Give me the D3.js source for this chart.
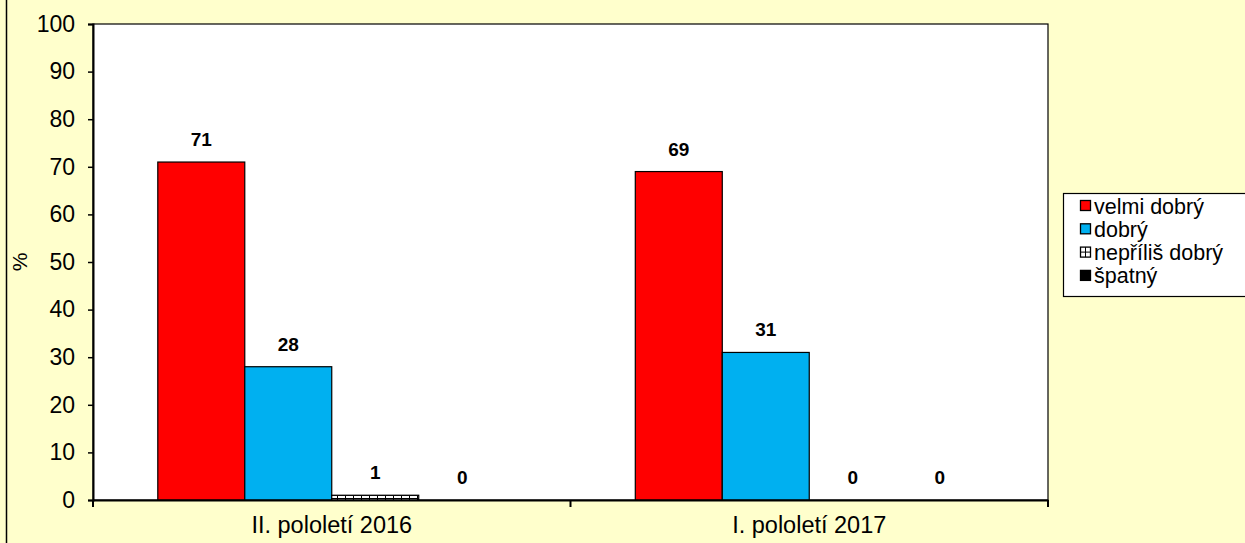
<!DOCTYPE html>
<html lang=cs>
<meta charset=utf-8>
<title>Hodnocení</title>
<style>
  body { margin: 0; background: #ffffcc; }
  svg { display: block; font-family: Arial, "Liberation Sans", sans-serif; }
</style>
<svg id=chart width=1245 height=543></svg>
<script src="https://cdn.jsdelivr.net/npm/d3@7/dist/d3.min.js"></script>
<script>
// data
var categories = ["II. pololetí 2016", "I. pololetí 2017"];
var seriesNames = ["velmi dobrý", "dobrý", "nepříliš dobrý", "špatný"];
var velmiDobry = [71, 69];
var dobry = [28, 31];
var neprilisDobry = [1, 0];
var spatny = [0, 0];
var yTicks = [0, 10, 20, 30, 40, 50, 60, 70, 80, 90, 100];

var seriesValues = [velmiDobry, dobry, neprilisDobry, spatny];
var fills = ["#ff0000", "#00b0f0", "url(#hatch)", "#000000"];

var svg = d3.select("#chart");
var W = 1245, H = 543;
var plot = { left: 93, top: 24, right: 1048, bottom: 500 };
var FONT = "Arial, 'Liberation Sans', sans-serif";

// pattern for "nepříliš dobrý"
var defs = svg.append("defs");
var pat = defs.append("pattern").attr("id", "hatch")
    .attr("patternUnits", "userSpaceOnUse").attr("width", 8).attr("height", 3);
pat.append("rect").attr("width", 8).attr("height", 3).attr("fill", "#fff");
pat.append("line").attr("x1", 0).attr("x2", 8).attr("y1", 0.5).attr("y2", 0.5)
    .attr("stroke", "#000").attr("stroke-width", 1);
pat.append("line").attr("x1", 4.5).attr("x2", 4.5).attr("y1", 0).attr("y2", 3)
    .attr("stroke", "#000").attr("stroke-width", 1);

// background + left outer border
svg.append("rect").attr("width", W).attr("height", H).attr("fill", "#ffffcc");
svg.append("line").attr("x1", 6.5).attr("x2", 6.5).attr("y1", 0).attr("y2", H)
    .attr("stroke", "#000").attr("stroke-width", 1.5);

// scales
var x0 = d3.scaleBand().domain(categories).range([plot.left, plot.right]).paddingInner(0).paddingOuter(0);
var x1 = d3.scaleBand().domain(d3.range(seriesNames.length))
    .range([0, x0.bandwidth()]).paddingInner(0).paddingOuter(0.745);
var y = d3.scaleLinear().domain([0, 100]).range([plot.bottom, plot.top]);

// plot area
svg.append("rect")
    .attr("x", plot.left).attr("y", plot.top)
    .attr("width", plot.right - plot.left).attr("height", plot.bottom - plot.top)
    .attr("fill", "#fff").attr("stroke", "#000").attr("stroke-width", 1.2);

// bars
var groups = svg.append("g").selectAll("g").data(categories).join("g")
    .attr("transform", function (c) { return "translate(" + x0(c) + ",0)"; });

groups.each(function (c, ci) {
    var g = d3.select(this);
    seriesValues.forEach(function (vals, si) {
        var v = vals[ci];
        if (v > 0) {
            g.append("rect")
                .attr("x", x1(si)).attr("y", y(v))
                .attr("width", x1.bandwidth()).attr("height", y(0) - y(v))
                .attr("fill", fills[si]).attr("stroke", "#000").attr("stroke-width", 1.2);
        }
        g.append("text")
            .attr("x", x1(si) + x1.bandwidth() / 2)
            .attr("y", y(v) - 16)
            .attr("text-anchor", "middle")
            .attr("font-size", 19).attr("font-weight", "bold")
            .text(v);
    });
});

// y axis
var yAxis = d3.axisLeft(y).tickValues(yTicks).tickSize(5).tickPadding(13);
var ya = svg.append("g").attr("transform", "translate(" + plot.left + ",0)").call(yAxis);
ya.select(".domain").attr("stroke", "#000").attr("stroke-width", 2);
ya.selectAll("line").attr("stroke", "#000").attr("stroke-width", 1.5);
ya.selectAll("text").attr("font-size", 23).attr("font-family", FONT).attr("fill", "#000");

// x axis
var xAxis = d3.axisBottom(x0).tickSize(0).tickPadding(16);
var xa = svg.append("g").attr("transform", "translate(0," + plot.bottom + ")").call(xAxis);
xa.select(".domain").attr("stroke", "#000").attr("stroke-width", 2);
xa.selectAll("text").attr("font-size", 23.5).attr("font-family", FONT).attr("fill", "#000");
// category separators
var seps = [plot.left].concat(categories.map(function (c) { return x0(c) + x0.bandwidth(); }));
xa.selectAll(".sep").data(seps).join("line").attr("class", "sep")
    .attr("x1", function (d) { return d; }).attr("x2", function (d) { return d; })
    .attr("y1", 0).attr("y2", 7).attr("stroke", "#000").attr("stroke-width", 2);

// y axis title
svg.append("text")
    .attr("transform", "translate(27," + ((plot.top + plot.bottom) / 2) + ") rotate(-90)")
    .attr("text-anchor", "middle").attr("font-size", 21).text("%");

// legend
var lg = svg.append("g").attr("transform", "translate(1063,193)");
lg.append("rect").attr("x", 0.5).attr("y", 0.5).attr("width", 210).attr("height", 103)
    .attr("fill", "#fff").attr("stroke", "#000").attr("stroke-width", 1.2);
var items = lg.selectAll(".item").data(seriesNames).join("g").attr("class", "item")
    .attr("transform", function (d, i) { return "translate(0," + (13 + i * 23.3) + ")"; });
items.append("rect").attr("x", 17.5).attr("y", -5.5).attr("width", 10).attr("height", 10)
    .attr("fill", function (d, i) { return i === 2 ? "#fff" : fills[i]; })
    .attr("stroke", "#000").attr("stroke-width", 1.3);
items.filter(function (d, i) { return i === 2; }).each(function () {
    var g = d3.select(this);
    g.append("line").attr("x1", 17.5).attr("x2", 27.5).attr("y1", -0.5).attr("y2", -0.5).attr("stroke", "#000");
    g.append("line").attr("x1", 22.5).attr("x2", 22.5).attr("y1", -5.5).attr("y2", 4.5).attr("stroke", "#000");
});
items.append("text").attr("x", 31).attr("y", 7.5).attr("font-size", 21.5).text(function (d) { return d; });
</script>
